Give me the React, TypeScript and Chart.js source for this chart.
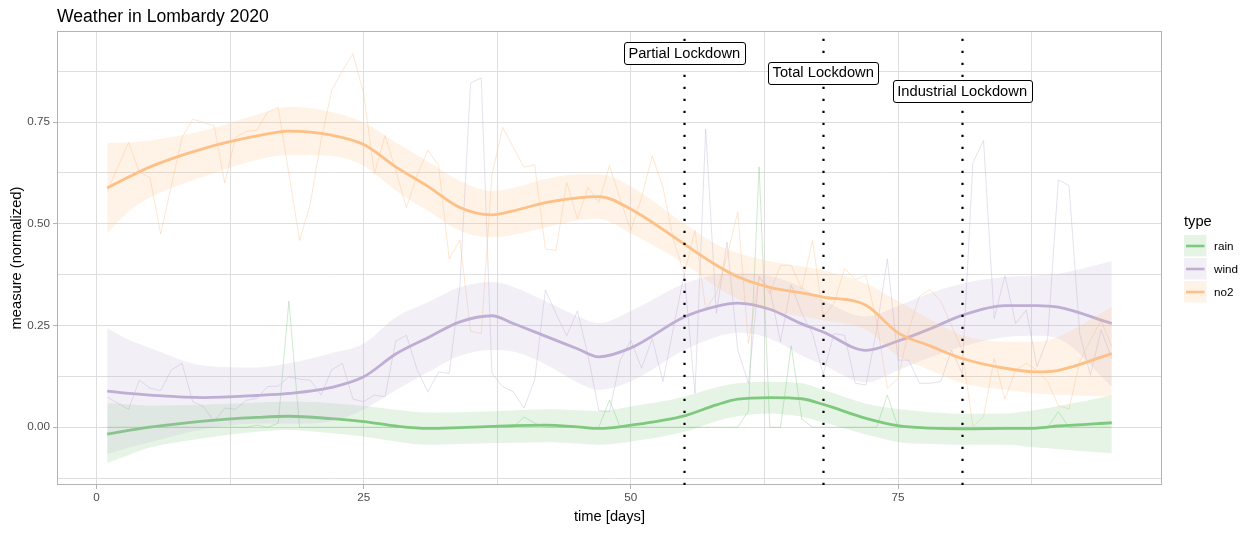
import React, { useEffect, useRef } from 'react';
import { Chart, registerables, type Plugin } from 'chart.js';

Chart.register(...registerables);

const FONT = '"Liberation Sans", Arial, Helvetica, sans-serif';

// raw daily observations (normalized)
const days = [
  1, 2, 3, 4, 5, 6, 7, 8, 9, 10, 11, 12, 13, 14, 15, 16, 17, 18, 19, 20,
  21, 22, 23, 24, 25, 26, 27, 28, 29, 30, 31, 32, 33, 34, 35, 36, 37, 38, 39, 40,
  41, 42, 43, 44, 45, 46, 47, 48, 49, 50, 51, 52, 53, 54, 55, 56, 57, 58, 59, 60,
  61, 62, 63, 64, 65, 66, 67, 68, 69, 70, 71, 72, 73, 74, 75, 76, 77, 78, 79, 80,
  81, 82, 83, 84, 85, 86, 87, 88, 89, 90, 91, 92, 93, 94, 95,
];

const rainRaw = [
  0, 0, 0, 0, 0, 0, 0, 0, 0, 0,
  0, 0, 0, 0, 0.005, 0, 0.01, 0.31, 0, 0,
  0, 0, 0, 0, 0, 0, 0, 0, 0, 0,
  0, 0, 0, 0, 0, 0, 0, 0, 0, 0.025,
  0.01, 0, 0, 0, 0, 0, 0, 0.067, 0, 0,
  0, 0, 0, 0, 0, 0, 0, 0, 0, 0,
  0.04, 0.64, 0, 0, 0.2, 0.02, 0, 0, 0, 0,
  0, 0, 0, 0.079, 0, 0, 0, 0, 0, 0,
  0, 0, 0, 0, 0, 0, 0, 0, 0, 0.038,
  0, 0, 0, 0, 0,
];

const windRaw = [
  0.074, 0.059, 0.044, 0.116, 0.096, 0.090, 0.141, 0.157, 0.063, 0.051,
  0.014, 0.047, 0.044, 0.066, 0.071, 0.100, 0.101, 0.124, 0.118, 0.116,
  0.079, 0.141, 0.157, 0.069, 0.063, 0.079, 0.075, 0.212, 0.226, 0.141,
  0.087, 0.136, 0.132, 0.345, 0.846, 0.859, 0.132, 0.100, 0.087, 0.047,
  0.116, 0.337, 0.279, 0.225, 0.286, 0.175, 0.041, 0.038, 0.165, 0.214,
  0.145, 0.218, 0.112, 0.247, 0.377, 0.083, 0.733, 0.280, 0.455, 0.190,
  0.108, 0.370, 0.340, 0.210, 0.350, 0.280, 0.230, 0.130, 0.230, 0.226,
  0.108, 0.104, 0.239, 0.414, 0.165, 0.165, 0.108, 0.108, 0.112, 0.190,
  0.132, 0.650, 0.705, 0.267, 0.373, 0.255, 0.288, 0.149, 0.218, 0.608,
  0.594, 0.230, 0.128, 0.239, 0.169,
];

const no2Raw = [
  0.58, 0.64, 0.70, 0.627, 0.614, 0.475, 0.594, 0.712, 0.757, 0.749,
  0.741, 0.600, 0.712, 0.727, 0.730, 0.774, 0.786, 0.623, 0.459, 0.549,
  0.704, 0.827, 0.876, 0.918, 0.819, 0.623, 0.717, 0.631, 0.540, 0.620,
  0.681, 0.644, 0.414, 0.460, 0.236, 0.230, 0.620, 0.737, 0.688, 0.639,
  0.645, 0.438, 0.435, 0.602, 0.512, 0.590, 0.553, 0.643, 0.561, 0.484,
  0.565, 0.667, 0.590, 0.459, 0.377, 0.484, 0.290, 0.328, 0.420, 0.529,
  0.206, 0.370, 0.328, 0.398, 0.398, 0.340, 0.459, 0.271, 0.304, 0.390,
  0.363, 0.373, 0.260, 0.096, 0.120, 0.239, 0.322, 0.338, 0.310, 0.250,
  0.190, 0.002, 0.026, 0.169, 0.069, 0.140, 0.157, 0.140, 0.112, 0.053,
  0.045, 0.161, 0.214, 0.262, 0.198,
];

// loess fit + confidence band, read at these days
const smoothDays = [1, 3, 5, 10, 15, 18, 22, 25, 28, 31, 34, 37, 39, 42, 45, 47, 50, 55, 58, 60, 63, 66, 68, 72, 75, 78, 81, 85, 88, 90, 95];

const rainFit = [-0.017, -0.008, 0.000, 0.015, 0.024, 0.027, 0.021, 0.014, 0.003, -0.003, -0.001, 0.002, 0.004, 0.005, 0.001, -0.003, 0.005, 0.028, 0.055, 0.069, 0.073, 0.070, 0.056, 0.022, 0.004, -0.002, -0.004, -0.003, -0.002, 0.003, 0.011];
const rainHigh = [0.059, 0.056, 0.053, 0.055, 0.060, 0.063, 0.059, 0.052, 0.043, 0.036, 0.037, 0.039, 0.041, 0.044, 0.042, 0.040, 0.051, 0.075, 0.098, 0.108, 0.112, 0.108, 0.092, 0.058, 0.045, 0.037, 0.033, 0.034, 0.043, 0.052, 0.078];
const rainLow = [-0.088, -0.068, -0.050, -0.027, -0.011, -0.007, -0.015, -0.023, -0.035, -0.043, -0.041, -0.039, -0.038, -0.037, -0.040, -0.043, -0.035, -0.011, 0.015, 0.027, 0.034, 0.026, 0.012, -0.018, -0.036, -0.041, -0.043, -0.043, -0.050, -0.054, -0.064];

const windFit = [0.089, 0.083, 0.079, 0.073, 0.078, 0.083, 0.098, 0.124, 0.180, 0.220, 0.259, 0.274, 0.255, 0.224, 0.193, 0.173, 0.195, 0.271, 0.297, 0.305, 0.290, 0.254, 0.234, 0.189, 0.212, 0.242, 0.275, 0.299, 0.299, 0.295, 0.255];
const windHigh = [0.244, 0.215, 0.195, 0.152, 0.147, 0.157, 0.182, 0.206, 0.270, 0.307, 0.344, 0.357, 0.345, 0.310, 0.273, 0.256, 0.286, 0.353, 0.375, 0.378, 0.372, 0.344, 0.312, 0.272, 0.298, 0.330, 0.353, 0.369, 0.373, 0.377, 0.408];
const windLow = [-0.066, -0.050, -0.037, -0.005, 0.009, 0.009, 0.015, 0.044, 0.091, 0.135, 0.176, 0.190, 0.186, 0.155, 0.110, 0.092, 0.113, 0.190, 0.222, 0.233, 0.218, 0.176, 0.153, 0.110, 0.140, 0.172, 0.198, 0.222, 0.225, 0.218, 0.100];

const no2Fit = [0.588, 0.615, 0.640, 0.685, 0.716, 0.728, 0.718, 0.695, 0.640, 0.592, 0.540, 0.522, 0.532, 0.552, 0.564, 0.567, 0.536, 0.450, 0.398, 0.370, 0.344, 0.330, 0.320, 0.300, 0.232, 0.200, 0.169, 0.145, 0.136, 0.140, 0.181];
const no2High = [0.699, 0.700, 0.705, 0.729, 0.768, 0.787, 0.775, 0.749, 0.700, 0.653, 0.605, 0.581, 0.588, 0.610, 0.622, 0.622, 0.592, 0.500, 0.450, 0.428, 0.408, 0.395, 0.386, 0.353, 0.310, 0.265, 0.226, 0.210, 0.210, 0.222, 0.296];
const no2Low = [0.476, 0.530, 0.565, 0.616, 0.657, 0.669, 0.667, 0.643, 0.582, 0.532, 0.483, 0.467, 0.473, 0.491, 0.508, 0.512, 0.476, 0.402, 0.345, 0.316, 0.288, 0.272, 0.263, 0.240, 0.175, 0.140, 0.108, 0.092, 0.083, 0.080, 0.075];

const seriesNames = ['rain', 'wind', 'no2'];
const seriesColors = ['#7FC97F', '#BEAED4', '#FDC086'];

const lockdownDays = [55, 68, 81];
const lockdownLabels = ['Partial Lockdown', 'Total Lockdown', 'Industrial Lockdown'];
const lockdownLabelY = [0.92, 0.872, 0.826];

const xMajor = [0, 25, 50, 75];
const xMinor = [12.5, 37.5, 62.5, 87.5];
const yMajor = [0, 0.25, 0.5, 0.75];
const yMinor = [-0.125, 0.125, 0.375, 0.625, 0.875];

function rgba(hex: string, a: number) {
  const n = parseInt(hex.slice(1), 16);
  return `rgba(${(n >> 16) & 255},${(n >> 8) & 255},${n & 255},${a})`;
}

const pts = (xs: number[], ys: number[]) => xs.map((x, i) => ({ x, y: ys[i] }));

function roundRect(ctx: CanvasRenderingContext2D, x: number, y: number, w: number, h: number, r: number) {
  ctx.beginPath();
  ctx.moveTo(x + r, y);
  ctx.lineTo(x + w - r, y);
  ctx.arcTo(x + w, y, x + w, y + r, r);
  ctx.lineTo(x + w, y + h - r);
  ctx.arcTo(x + w, y + h, x + w - r, y + h, r);
  ctx.lineTo(x + r, y + h);
  ctx.arcTo(x, y + h, x, y + h - r, r);
  ctx.lineTo(x, y + r);
  ctx.arcTo(x, y, x + r, y, r);
  ctx.closePath();
}

const decorations: Plugin<'line'> = {
  id: 'decorations',
  afterDatasetsDraw(chart) {
    const { ctx, chartArea: a, scales: { x, y } } = chart;
    ctx.save();
    // panel border
    ctx.strokeStyle = '#B3B3B3';
    ctx.lineWidth = 1;
    ctx.strokeRect(a.left + 0.5, a.top + 0.5, a.right - a.left - 1, a.bottom - a.top - 1);

    // lockdown lines
    ctx.strokeStyle = '#000';
    ctx.lineWidth = 2.2;
    ctx.setLineDash([2.2, 9.8]);
    lockdownDays.forEach(d => {
      const px = Math.round(x.getPixelForValue(d)) + 0.5;
      ctx.beginPath();
      ctx.moveTo(px, a.bottom);
      ctx.lineTo(px, a.top);
      ctx.stroke();
    });
    ctx.setLineDash([]);

    // labels
    ctx.font = `14.7px ${FONT}`;
    ctx.textAlign = 'center';
    ctx.textBaseline = 'middle';
    lockdownDays.forEach((d, i) => {
      const cx = x.getPixelForValue(d);
      const cy = y.getPixelForValue(lockdownLabelY[i]);
      const w = ctx.measureText(lockdownLabels[i]).width + 9;
      const h = 21.5;
      roundRect(ctx, Math.round(cx - w / 2) + 0.5, Math.round(cy - h / 2) + 0.5, Math.round(w), Math.round(h), 2.5);
      ctx.fillStyle = '#fff';
      ctx.fill();
      ctx.strokeStyle = '#000';
      ctx.lineWidth = 1;
      ctx.stroke();
      ctx.fillStyle = '#000';
      ctx.fillText(lockdownLabels[i], cx, cy + 0.5);
    });
    ctx.restore();
  },
  afterDraw(chart) {
    const { ctx, chartArea: a } = chart;
    ctx.save();
    ctx.fillStyle = '#000';
    ctx.textBaseline = 'middle';

    // title
    ctx.font = `17.6px ${FONT}`;
    ctx.textAlign = 'left';
    ctx.fillText('Weather in Lombardy 2020', a.left, 17);

    // axis titles
    ctx.font = `14.7px ${FONT}`;
    ctx.textAlign = 'center';
    ctx.fillText('time [days]', (a.left + a.right) / 2, 517);
    ctx.save();
    ctx.translate(17, (a.top + a.bottom) / 2);
    ctx.rotate(-Math.PI / 2);
    ctx.fillText('measure (normalized)', 0, 0);
    ctx.restore();

    // legend
    const lx = 1184;
    ctx.textAlign = 'left';
    ctx.font = `14.7px ${FONT}`;
    ctx.fillText('type', lx, 222);
    ctx.font = `11.7px ${FONT}`;
    seriesNames.forEach((name, i) => {
      const top = 235 + i * 23;
      ctx.fillStyle = rgba(seriesColors[i], 0.2);
      ctx.fillRect(lx, top, 22.5, 21.5);
      ctx.strokeStyle = seriesColors[i];
      ctx.lineWidth = 2.6;
      ctx.beginPath();
      ctx.moveTo(lx + 2, top + 11);
      ctx.lineTo(lx + 20.5, top + 11);
      ctx.stroke();
      ctx.fillStyle = '#000';
      ctx.fillText(name, 1214, top + 12);
    });
    ctx.restore();
  },
};

export default function App() {
  const canvasRef = useRef<HTMLCanvasElement>(null);

  useEffect(() => {
    if (!canvasRef.current) return;

    const rawSeries = [rainRaw, windRaw, no2Raw];
    const fitSeries = [rainFit, windFit, no2Fit];
    const lowSeries = [rainLow, windLow, no2Low];
    const highSeries = [rainHigh, windHigh, no2High];

    const datasets: any[] = [];
    seriesNames.forEach((name, i) => {
      datasets.push({
        label: name + ' raw',
        data: pts(days, rawSeries[i]),
        borderColor: rgba(seriesColors[i], 0.38),
        borderWidth: 1,
        pointRadius: 0,
        fill: false,
        tension: 0,
      });
    });
    seriesNames.forEach((name, i) => {
      datasets.push({
        label: name + ' low',
        data: pts(smoothDays, lowSeries[i]),
        borderColor: 'rgba(0,0,0,0)',
        borderWidth: 0,
        pointRadius: 0,
        fill: false,
        cubicInterpolationMode: 'monotone',
      });
      datasets.push({
        label: name + ' high',
        data: pts(smoothDays, highSeries[i]),
        borderColor: 'rgba(0,0,0,0)',
        borderWidth: 0,
        pointRadius: 0,
        fill: '-1',
        backgroundColor: rgba(seriesColors[i], 0.2),
        cubicInterpolationMode: 'monotone',
      });
      datasets.push({
        label: name,
        data: pts(smoothDays, fitSeries[i]),
        borderColor: seriesColors[i],
        borderWidth: 2.8,
        pointRadius: 0,
        fill: false,
        cubicInterpolationMode: 'monotone',
      });
    });
    // first pushed is drawn first
    datasets.forEach((d, i) => { d.order = datasets.length - i; });

    const tickColor = (major: number[]) => (c: any) =>
      c.tick && major.includes(c.tick.value) ? '#B3B3B3' : 'rgba(0,0,0,0)';

    const chart = new Chart(canvasRef.current, {
      type: 'line',
      data: { datasets },
      options: {
        responsive: false,
        animation: false,
        events: [],
        layout: { padding: { top: 31, right: 93, left: 0, bottom: 0 }, autoPadding: false },
        plugins: {
          legend: { display: false },
          title: { display: false },
          tooltip: { enabled: false },
        },
        scales: {
          x: {
            type: 'linear',
            min: -3.7,
            max: 99.7,
            afterBuildTicks: s => { s.ticks = [...xMajor, ...xMinor].sort((p, q) => p - q).map(v => ({ value: v })); },
            afterFit: s => { s.height = 54; },
            border: { display: false },
            grid: { color: '#DEDEDE', lineWidth: 1, tickLength: 4, tickColor: tickColor(xMajor) },
            ticks: {
              autoSkip: false,
              maxRotation: 0,
              padding: 2,
              color: '#4D4D4D',
              font: { family: FONT, size: 11.7 },
              callback: v => (xMajor.includes(Number(v)) ? String(v) : ''),
            },
          },
          y: {
            type: 'linear',
            min: -0.142,
            max: 0.974,
            afterBuildTicks: s => { s.ticks = [...yMajor, ...yMinor].sort((p, q) => p - q).map(v => ({ value: v })); },
            afterFit: s => { s.width = 57; },
            border: { display: false },
            grid: { color: '#DEDEDE', lineWidth: 1, tickLength: 4, tickColor: tickColor(yMajor) },
            ticks: {
              autoSkip: false,
              padding: 3,
              color: '#4D4D4D',
              font: { family: FONT, size: 11.7 },
              callback: v => (yMajor.includes(Number(v)) ? Number(v).toFixed(2) : ''),
            },
          },
        },
      },
      plugins: [decorations],
    });

    return () => { chart.destroy(); };
  }, []);

  return (
    <div style={{ position: 'fixed', left: 0, top: 0, width: 1255, height: 539, background: '#fff' }}>
      <canvas ref={canvasRef} width={1255} height={539} style={{ display: 'block' }} />
    </div>
  );
}
